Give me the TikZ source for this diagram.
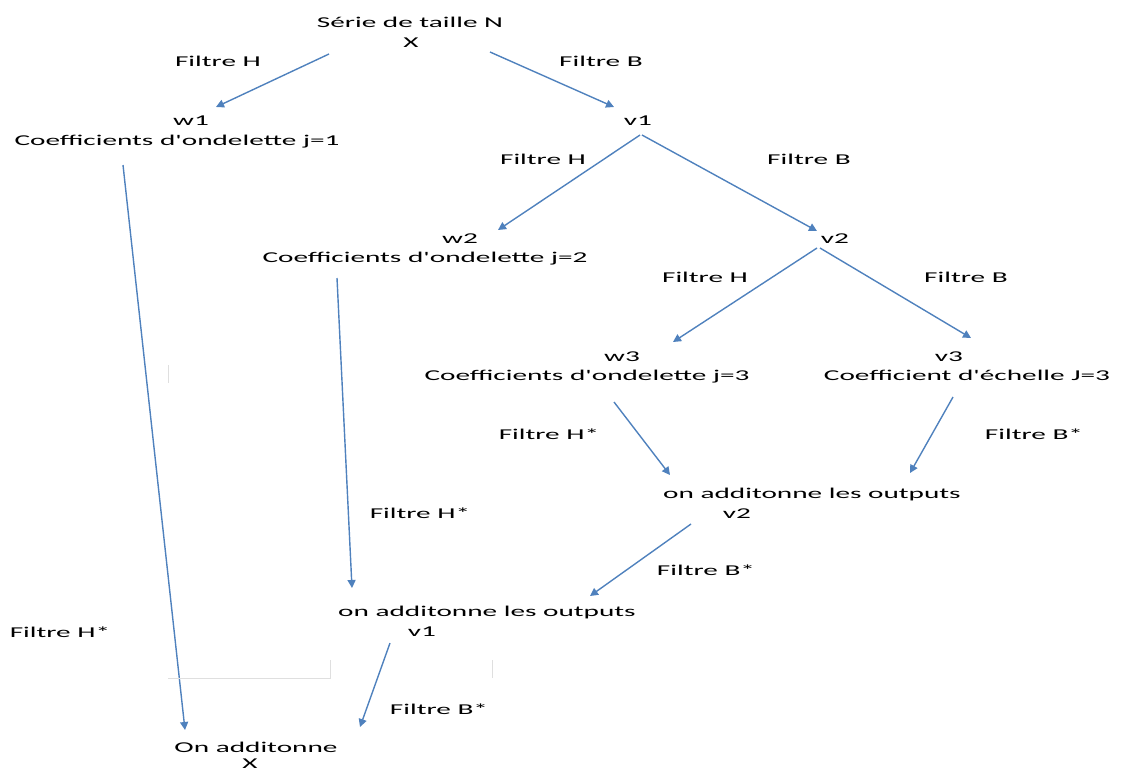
\documentclass[tikz,border=0pt]{standalone}
\usepackage{fontspec}
\setmainfont{Carlito}
\usetikzlibrary{arrows.meta}
\definecolor{officeblue}{RGB}{79,129,189}
\newcommand{\ap}{\textquotesingle}

\begin{document}
\begin{tikzpicture}[x=1pt, y=-1pt,
  txt/.style={anchor=base, inner sep=0pt, xscale=1.95, font=\fontsize{15}{20}\selectfont},
  flow/.style={officeblue, line width=1.4pt, -{Triangle[length=8pt, width=8pt]}}]
  \useasboundingbox (0,0) rectangle (1123,772);

  % Decomposition
  \node[txt] (top1) at (410,27) {Série de taille N};
  \node[txt] (top2) at (411,47) {X};
  \node[txt] (w1a) at (191,125) {w1};
  \node[txt] (w1b) at (177,145) {Coefficients d\ap ondelette j=1};
  \node[txt] (v1) at (638,125) {v1};
  \node[txt] (w2a) at (460,243) {w2};
  \node[txt] (w2b) at (425,262) {Coefficients d\ap ondelette j=2};
  \node[txt] (v2) at (835,243) {v2};
  \node[txt] (w3a) at (622,361) {w3};
  \node[txt] (w3b) at (587,380) {Coefficients d\ap ondelette j=3};
  \node[txt] (v3a) at (949,361) {v3};
  \node[txt] (v3b) at (967,380) {Coefficient d\ap échelle J=3};

  % Reconstruction
  \node[txt] (s2a) at (812,498) {on additonne les outputs};
  \node[txt] (s2b) at (737,518) {v2};
  \node[txt] (s1a) at (487,616) {on additonne les outputs};
  \node[txt] (s1b) at (422,636) {v1};
  \node[txt] (enda) at (256,752) {On additonne};
  \node[txt] (endb) at (250,768) {X};

  % Filter labels
  \node[txt] (lH1) at (218,66) {Filtre H};
  \node[txt] (lB1) at (601,66) {Filtre B};
  \node[txt] (lH2) at (543,164) {Filtre H};
  \node[txt] (lB2) at (809,164) {Filtre B};
  \node[txt] (lH3) at (705,282) {Filtre H};
  \node[txt] (lB3) at (966,282) {Filtre B};
  \node[txt] (lHs3) at (549,439) {Filtre H*};
  \node[txt] (lBs3) at (1034,439) {Filtre B*};
  \node[txt] (lHs2) at (420,518) {Filtre H*};
  \node[txt] (lBs2) at (706,575) {Filtre B*};
  \node[txt] (lHs1) at (60,637) {Filtre H*};
  \node[txt] (lBs1) at (439,714) {Filtre B*};

  % Arrows down the tree
  \draw[flow] ([shift={(-82,7)}]top2.base) -- ([shift={(25,-18)}]w1a.base);
  \draw[flow] ([shift={(79,5)}]top2.base) -- ([shift={(-24,-18)}]v1.base);
  \draw[flow] ([shift={(2,10)}]v1.base) -- ([shift={(38,-13)}]w2a.base);
  \draw[flow] ([shift={(4,10)}]v1.base) -- ([shift={(-18,-12)}]v2.base);
  \draw[flow] ([shift={(-18,5)}]v2.base) -- ([shift={(51,-19)}]w3a.base);
  \draw[flow] ([shift={(-15,5)}]v2.base) -- ([shift={(22,-23)}]v3a.base);

  % Arrows back up
  \draw[flow] ([shift={(27,22)}]w3b.base) -- ([shift={(-142,-23)}]s2a.base);
  \draw[flow] ([shift={(-14,17)}]v3b.base) -- ([shift={(98,-25)}]s2a.base);
  \draw[flow] ([shift={(-46,6)}]s2b.base) -- ([shift={(103,-20)}]s1a.base);
  \draw[flow] ([shift={(-88,16)}]w2b.base) -- ([shift={(-135,-28)}]s1a.base);
  \draw[flow] ([shift={(-32,7)}]s1b.base) -- ([shift={(104,-25)}]enda.base);
  \draw[flow] ([shift={(-54,20)}]w1b.base) -- ([shift={(-71,-22)}]enda.base);

  % Faint cell borders
  \draw[gray!25, line width=1pt] (168,365) -- (168,383);
  \draw[gray!25, line width=1pt] (168,678) -- (330,678) -- (330,660);
  \draw[gray!25, line width=1pt] (492,660) -- (492,678);
\end{tikzpicture}
\end{document}
